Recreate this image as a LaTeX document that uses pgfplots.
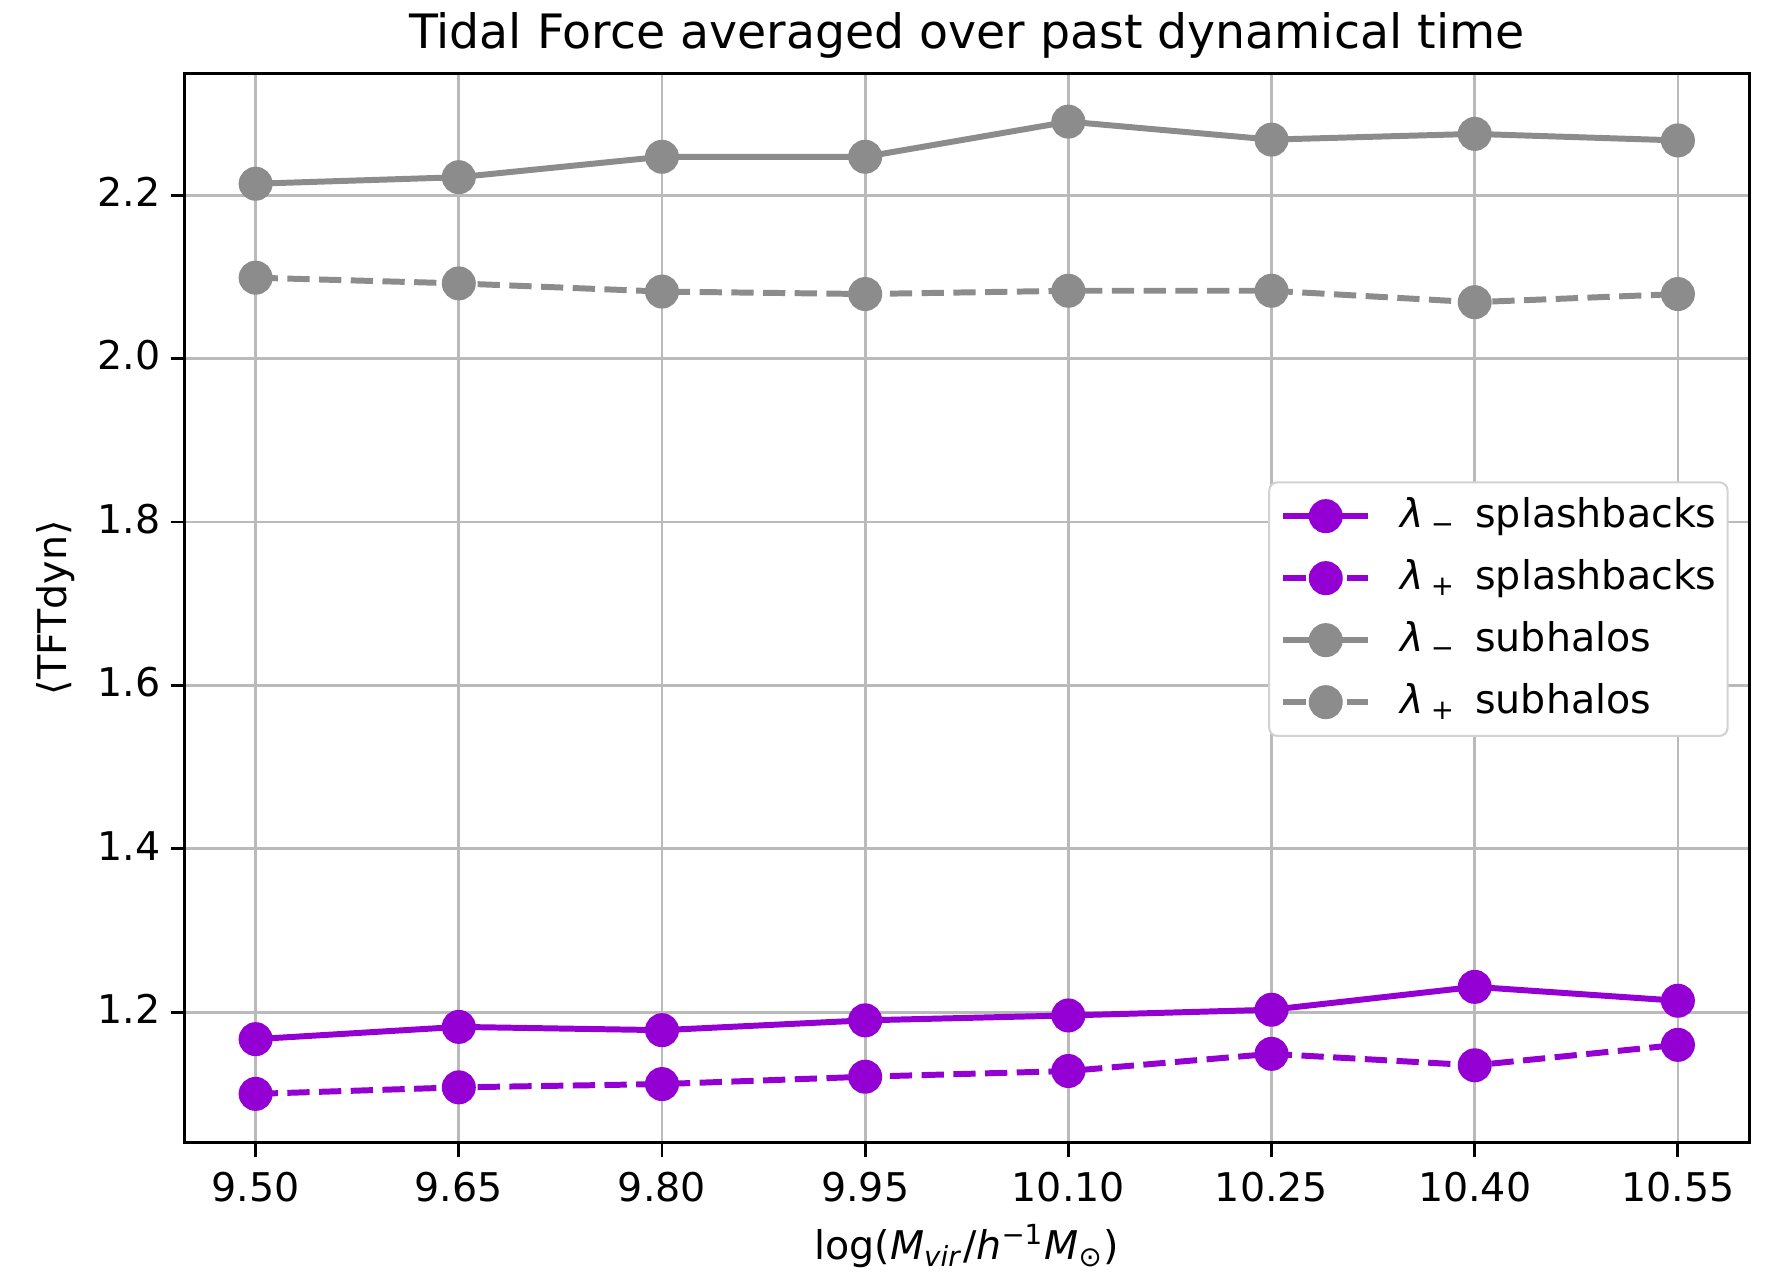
\documentclass[border=0pt]{standalone}
\usepackage{fontspec}
\setmainfont{DejaVu Sans}[ItalicFont={DejaVu Sans Oblique},BoldFont={DejaVu Sans Bold}]
\usepackage{pgfplots}
\pgfplotsset{compat=1.18}
\definecolor{dviolet}{RGB}{148,0,211}
\definecolor{mgray}{RGB}{140,140,140}
\definecolor{gridgray}{RGB}{186,186,186}
\definecolor{leggray}{RGB}{210,210,210}
\newcommand{\fs}{\fontsize{9.6}{11}\selectfont}
\begin{document}
\begin{tikzpicture}
\path[use as bounding box] (-44.78pt,-31.67pt) rectangle (387.22pt,277.28pt);
\begin{axis}[
  at={(0pt,0pt)}, anchor=south west,
  scale only axis, width=379.7pt, height=259.56pt,
  xmin=9.4475, xmax=10.6025, ymin=1.0405, ymax=2.3495,
  xtick={9.50,9.65,9.80,9.95,10.10,10.25,10.40,10.55},
  xticklabels={9.50,9.65,9.80,9.95,10.10,10.25,10.40,10.55},
  ytick={1.2,1.4,1.6,1.8,2.0,2.2},
  yticklabels={1.2,1.4,1.6,1.8,2.0,2.2},
  /pgf/number format/assume math mode=true,
  xtick pos=bottom, ytick pos=left,
  tick align=outside, major tick length=3.4pt,
  tick style={black, line width=0.7pt},
  axis line style={black, line width=0.73pt},
  grid=major, major grid style={gridgray, line width=0.65pt},
  ticklabel style={font=\fs},
  xticklabel style={anchor=base, inner sep=0pt, yshift=-10.8pt},
  yticklabel style={anchor=mid east, inner sep=0pt, xshift=-2.2pt},
  title={Tidal Force averaged over past dynamical time},
  title style={at={(axis description cs:0.5,1)}, anchor=base, inner sep=0pt, font=\fontsize{11.5}{13}\selectfont},
  xlabel={log(\textit{M}\textsubscript{\textit{vir}}/\textit{h}\textsuperscript{−1}\textit{M}\textsubscript{⊙})},
  xlabel style={at={(axis description cs:0.5,-0.1098)}, anchor=base, inner sep=0pt, font=\fs},
  ylabel={⟨TFTdyn⟩},
  ylabel style={at={(axis description cs:-0.0827,0.5)}, anchor=center, inner sep=0pt, font=\fs},
  legend image code/.code={
    \draw[mark repeat=2,mark phase=2,#1] plot coordinates {(0pt,0pt) (10.3pt,0pt) (20.6pt,0pt)};
  },
  legend cell align=left,
  legend style={at={(0.987,0.4987)}, anchor=east, draw=leggray, line width=0.5pt,
    rounded corners=2pt, fill=white, inner xsep=2.7pt, inner ysep=3.4pt,
    row sep=5.45pt, column sep=7.2pt,
    nodes={inner sep=0pt, text height=7.6pt, text depth=2pt},
    cells={anchor=west}, font=\fs},
]
\addplot[dviolet, line width=1.45pt, mark=*, mark size=3.4pt, mark options={solid}]
  coordinates {(9.50,1.167) (9.65,1.182) (9.80,1.178) (9.95,1.190) (10.10,1.196) (10.25,1.203) (10.40,1.231) (10.55,1.214)};
\addlegendentry{\textit{λ}\,\textsubscript{−}\, splashbacks}
\addplot[dviolet, line width=1.45pt, dash pattern=on 5.4pt off 2.3pt, mark=*, mark size=3.4pt, mark options={solid}]
  coordinates {(9.50,1.100) (9.65,1.108) (9.80,1.112) (9.95,1.121) (10.10,1.128) (10.25,1.149) (10.40,1.135) (10.55,1.160)};
\addlegendentry{\textit{λ}\,\textsubscript{+}\, splashbacks}
\addplot[mgray, line width=1.45pt, mark=*, mark size=3.4pt, mark options={solid}]
  coordinates {(9.50,2.214) (9.65,2.222) (9.80,2.247) (9.95,2.247) (10.10,2.290) (10.25,2.268) (10.40,2.275) (10.55,2.267)};
\addlegendentry{\textit{λ}\,\textsubscript{−}\, subhalos}
\addplot[mgray, line width=1.45pt, dash pattern=on 5.4pt off 2.3pt, mark=*, mark size=3.4pt, mark options={solid}]
  coordinates {(9.50,2.099) (9.65,2.092) (9.80,2.082) (9.95,2.079) (10.10,2.083) (10.25,2.083) (10.40,2.069) (10.55,2.079)};
\addlegendentry{\textit{λ}\,\textsubscript{+}\, subhalos}
\end{axis}
\end{tikzpicture}
\end{document}
